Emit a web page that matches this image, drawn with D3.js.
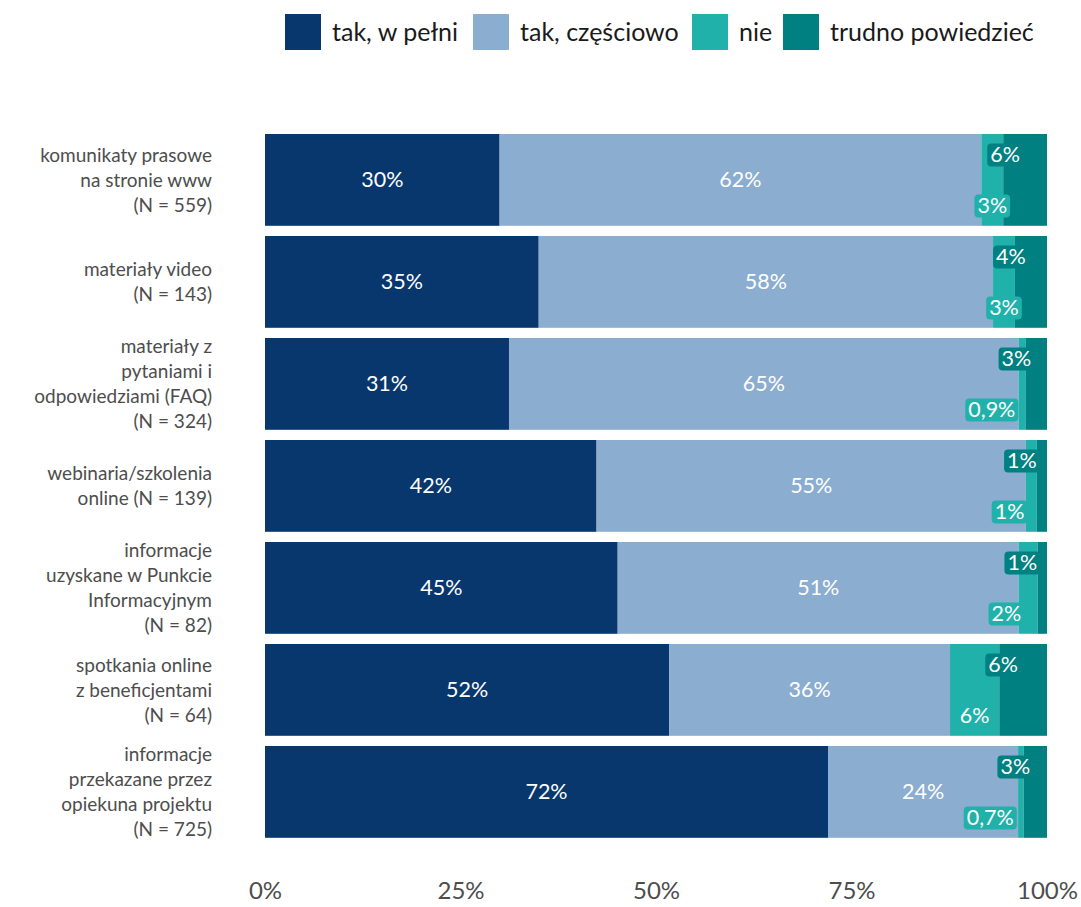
<!DOCTYPE html>
<html>
<head>
<meta charset="utf-8">
<script src="https://cdn.jsdelivr.net/npm/d3@7"></script>
<style>
  html, body { margin: 0; padding: 0; background: #ffffff; }
  svg { display: block; font-family: Lato, "Open Sans", sans-serif; }
</style>
</head>
<body>
<svg id="chart" width="1081" height="907"></svg>
<script>
// ---- data ----
const categories = [
  "komunikaty prasowe\nna stronie www\n(N = 559)",
  "materiały video\n(N = 143)",
  "materiały z\npytaniami i\nodpowiedziami (FAQ)\n(N = 324)",
  "webinaria/szkolenia\nonline (N = 139)",
  "informacje\nuzyskane w Punkcie\nInformacyjnym\n(N = 82)",
  "spotkania online\nz beneficjentami\n(N = 64)",
  "informacje\nprzekazane przez\nopiekuna projektu\n(N = 725)"
];
const seriesNames = ["tak, w pełni", "tak, częściowo", "nie", "trudno powiedzieć"];
const takWPelni    = [30.0, 35.0, 31.2, 42.4, 45.1, 51.7, 72.0];
const takCzesciowo = [61.6, 58.1, 65.2, 54.9, 51.3, 35.9, 24.3];
const nie          = [2.8, 2.8, 0.9, 1.4, 2.4, 6.3, 0.7];
const trudno       = [5.6, 4.1, 2.7, 1.3, 1.2, 6.1, 3.0];
const xTicks = [0, 25, 50, 75, 100];
const colors = ["#08376e", "#8badd0", "#20b2aa", "#008080"];

// ---- build table ----
const seriesValues = [takWPelni, takCzesciowo, nie, trudno];
const rows = categories.map((c, i) => {
  const r = { cat: c };
  seriesNames.forEach((s, k) => { r[s] = seriesValues[k][i]; });
  return r;
});
const stacked = d3.stack().keys(seriesNames)(rows);

const svg = d3.select("#chart");
const x = d3.scaleLinear().domain([0, 100]).range([265, 1047]);
const y = d3.scaleBand().domain(categories).range([128.9, 842.9])
  .paddingInner(0.1).paddingOuter(0.05);
const color = d3.scaleOrdinal().domain(seriesNames).range(colors);

const fmt = v => v < 1 ? d3.format(".1f")(v).replace(".", ",") + "%" : Math.round(v) + "%";

// ---- bars ----
const layers = svg.append("g").selectAll("g").data(stacked).join("g")
  .attr("fill", d => color(d.key));
layers.selectAll("rect").data(d => d).join("rect")
  .attr("x", d => x(d[0]))
  .attr("y", d => y(d.data.cat))
  .attr("width", d => x(d[1]) - x(d[0]))
  .attr("height", y.bandwidth());

// ---- big labels (first two series) ----
const big = svg.append("g").attr("font-size", 21.5).attr("fill", "#ffffff")
  .attr("text-anchor", "middle");
stacked.slice(0, 2).forEach(layer => {
  big.selectAll(null).data(layer).join("text")
    .attr("x", d => (x(d[0]) + x(d[1])) / 2)
    .attr("y", d => y(d.data.cat) + y.bandwidth() / 2)
    .attr("dy", "0.35em")
    .text(d => fmt(d[1] - d[0]));
});

// ---- small labels with boxes ----
const small = svg.append("g");
function addBoxLabel(cx, cy, txt, fill, anchorRight) {
  const g = small.append("g");
  const t = g.append("text").attr("font-size", 21.5).attr("fill", "#ffffff")
    .attr("dy", "0.35em").text(txt);
  const w = t.node().getComputedTextLength();
  const padX = 3, h = 23;
  const left = anchorRight ? cx - w - padX : cx - w / 2;
  g.insert("rect", "text")
    .attr("x", left - padX).attr("y", cy - h / 2)
    .attr("width", w + 2 * padX).attr("height", h)
    .attr("rx", 4).attr("fill", fill);
  t.attr("x", left).attr("y", cy);
}
// "trudno powiedzieć" labels – upper part, nudged left
stacked[3].forEach(d => {
  const cx = (x(d[0]) + x(d[1])) / 2 - 20;
  const cy = y(d.data.cat) + y.bandwidth() / 2 - 25;
  addBoxLabel(cx, cy, fmt(d[1] - d[0]), colors[3], false);
});
// "nie" labels – lower part
stacked[2].forEach(d => {
  const v = d[1] - d[0];
  const mid = (x(d[0]) + x(d[1])) / 2;
  const cy = y(d.data.cat) + y.bandwidth() / 2 + 26;
  if (v < 2.5) addBoxLabel(mid - 4, cy, fmt(v), colors[2], true);
  else addBoxLabel(mid, cy, fmt(v), colors[2], false);
});

// ---- category labels ----
const lineH = 25;
const catG = svg.append("g").attr("font-size", 19).attr("fill", "#4d4d4d")
  .attr("text-anchor", "end");
categories.forEach(c => {
  const lines = c.split("\n");
  const cy = y(c) + y.bandwidth() / 2;
  const t = catG.append("text").attr("x", 212);
  lines.forEach((ln, i) => {
    t.append("tspan").attr("x", 212)
      .attr("y", cy + (i - (lines.length - 1) / 2) * lineH)
      .attr("dy", "0.35em").text(ln);
  });
});

// ---- x axis ----
const axis = svg.append("g").attr("transform", "translate(0,876)")
  .call(d3.axisBottom(x).tickValues(xTicks).tickFormat(d => d + "%").tickSize(0).tickPadding(6));
axis.select(".domain").remove();
axis.selectAll("text").attr("font-size", 24).attr("fill", "#4d4d4d")
  .attr("font-family", "Lato, 'Open Sans', sans-serif");

// ---- legend ----
const legendX = [285, 473, 692, 783];
const leg = svg.append("g");
seriesNames.forEach((s, i) => {
  leg.append("rect").attr("x", legendX[i]).attr("y", 14).attr("width", 36).attr("height", 36)
    .attr("fill", color(s));
  leg.append("text").attr("x", legendX[i] + 47).attr("y", 32).attr("dy", "0.35em")
    .attr("font-size", 25).attr("fill", "#1a1a1a").text(s);
});
</script>
</body>
</html>
